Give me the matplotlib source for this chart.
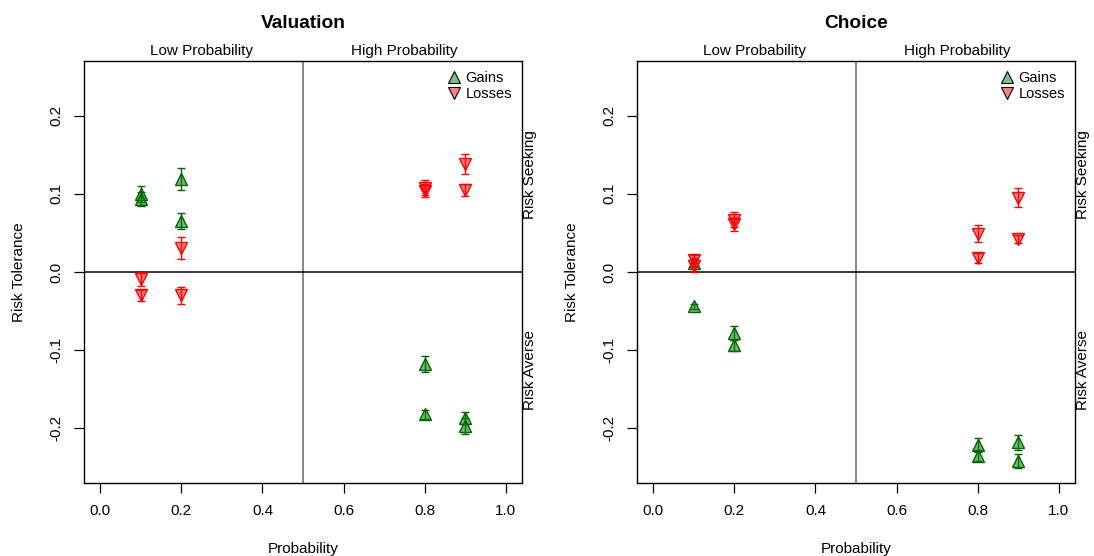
import numpy as np
import matplotlib
matplotlib.use("Agg")
import matplotlib.pyplot as plt
from matplotlib.lines import Line2D

plt.rcParams["font.family"] = ["Liberation Sans", "DejaVu Sans"]
plt.rcParams["font.size"] = 11

# probabilities, two gambles per probability
probs = [0.1, 0.1, 0.2, 0.2, 0.8, 0.8, 0.9, 0.9]

# Valuation panel: mean risk tolerance and standard errors
val_gain = [0.100, 0.094, 0.119, 0.065, -0.118, -0.182, -0.187, -0.197]
val_gain_se = [0.010, 0.009, 0.014, 0.010, 0.010, 0.006, 0.008, 0.010]
val_loss = [-0.009, -0.030, 0.031, -0.030, 0.108, 0.104, 0.138, 0.105]
val_loss_se = [0.009, 0.007, 0.014, 0.011, 0.010, 0.008, 0.013, 0.008]

# Choice panel
cho_gain = [0.012, -0.044, -0.078, -0.094, -0.221, -0.235, -0.218, -0.242]
cho_gain_se = [0.006, 0.003, 0.009, 0.007, 0.009, 0.007, 0.010, 0.009]
cho_loss = [0.015, 0.008, 0.067, 0.061, 0.049, 0.018, 0.095, 0.042]
cho_loss_se = [0.007, 0.008, 0.010, 0.008, 0.011, 0.006, 0.012, 0.005]

panels = [
    ("Valuation", val_gain, val_gain_se, val_loss, val_loss_se),
    ("Choice", cho_gain, cho_gain_se, cho_loss, cho_loss_se),
]

fig = plt.figure(figsize=(10.94, 5.56), dpi=100)

W, H = 1094, 556
box_w, box_h = 438, 422
lefts = [84, 637]
top = 61

for left, (title, gain, gain_se, loss, loss_se) in zip(lefts, panels):
    ax = fig.add_axes([left / W, (H - top - box_h) / H, box_w / W, box_h / H])

    # quadrant lines
    ax.axvline(0.5, color="#666666", lw=1.1, zorder=1)
    ax.axhline(0.0, color="black", lw=1.1, zorder=1)

    # gains
    ax.errorbar(probs, gain, yerr=gain_se, fmt="none", ecolor="darkgreen",
                elinewidth=1, capsize=2.8, capthick=1, zorder=2)
    ax.plot(probs, gain, linestyle="none", marker="^", markersize=8,
            markerfacecolor=(0.0, 0.5, 0.0, 0.55), markeredgecolor="darkgreen",
            markeredgewidth=1, zorder=3)

    # losses
    ax.errorbar(probs, loss, yerr=loss_se, fmt="none", ecolor="red",
                elinewidth=1, capsize=2.8, capthick=1, zorder=4)
    ax.plot(probs, loss, linestyle="none", marker="v", markersize=8,
            markerfacecolor=(1.0, 0.0, 0.0, 0.5), markeredgecolor="red",
            markeredgewidth=1, zorder=5)

    ax.set_xlim(-0.04, 1.04)
    ax.set_ylim(-0.27, 0.27)
    ax.set_xticks([0.0, 0.2, 0.4, 0.6, 0.8, 1.0])
    ax.set_xticklabels(["0.0", "0.2", "0.4", "0.6", "0.8", "1.0"])
    ax.set_yticks([-0.2, -0.1, 0.0, 0.1, 0.2])
    ax.set_yticklabels(["-0.2", "-0.1", "0.0", "0.1", "0.2"], rotation=90,
                       va="center")
    ax.tick_params(direction="out", length=7, width=0.9, pad=8, labelsize=11)

    for sp in ax.spines.values():
        sp.set_linewidth(1)

    ax.set_xlabel("Probability", fontsize=11)
    ax.xaxis.set_label_coords(0.5, -0.14)
    ax.set_ylabel("Risk Tolerance", fontsize=11)
    ax.yaxis.set_label_coords(-0.133, 0.5)

    ax.text(0.5, 1.0 + (top - 23) / box_h, title, transform=ax.transAxes,
            ha="center", va="center", fontsize=13.8, fontweight="bold")

    trans = ax.get_xaxis_transform()
    ax.text(0.25, 1.0 + 10 / box_h, "Low Probability", transform=trans,
            ha="center", va="center", fontsize=11)
    ax.text(0.75, 1.0 + 10 / box_h, "High Probability", transform=trans,
            ha="center", va="center", fontsize=11)

    ytrans = ax.get_yaxis_transform()
    ax.text(1.003, 0.125, "Risk Seeking", transform=ytrans, rotation=90,
            ha="left", va="center", fontsize=11)
    ax.text(1.003, -0.125, "Risk Averse", transform=ytrans, rotation=90,
            ha="left", va="center", fontsize=11)

    handles = [
        Line2D([], [], linestyle="none", marker="^", markersize=8,
               markerfacecolor="#80c080", markeredgecolor="black",
               markeredgewidth=0.8),
        Line2D([], [], linestyle="none", marker="v", markersize=8,
               markerfacecolor="#ff8080", markeredgecolor="black",
               markeredgewidth=0.8),
    ]
    ax.legend(handles, ["Gains", "Losses"], loc="upper right", frameon=False,
              fontsize=10.5, handlelength=1.0, handletextpad=0.3,
              labelspacing=0.15, borderaxespad=0.3)

plt.savefig("out.png", dpi=100)
plt.close()
